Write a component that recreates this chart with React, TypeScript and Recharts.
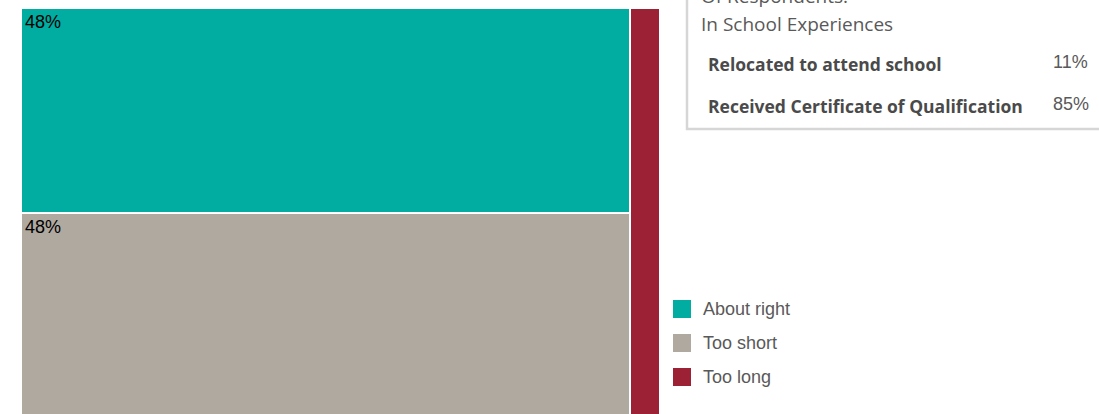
import { Treemap } from 'recharts';

const categories = ['About right', 'Too short', 'Too long'];
const shares = [48, 48, 4.7];
const shareLabels = ['48%', '48%', ''];
const colors = ['#00ADA0', '#B0A9A0', '#9D2135'];

const boxTitle = ['Of Respondents:', 'In School Experiences'];
const boxRows = ['Relocated to attend school', 'Received Certificate of Qualification'];
const boxValues = ['11%', '85%'];

const data = categories.map((name, i) => ({ name, value: shares[i], label: shareLabels[i], color: colors[i] }));

function Cell(props: any) {
  const { x, y, width, height, depth, label, color } = props;
  if (depth !== 1) return null;
  return (
    <g>
      <rect x={x} y={y} width={width} height={height} fill={color} stroke="#fff" strokeWidth={2} />
      {label && width > 50 ? (
        <text x={x + 4} y={y + 20} fontFamily="Liberation Sans, Arial" fontSize={18} fill="#000">
          {label}
        </text>
      ) : null}
    </g>
  );
}

export default function App() {
  return (
    <div style={{ position: 'fixed', left: 0, top: 0, width: 1099, height: 414, overflow: 'hidden', background: '#fff' }}>
      <div style={{ position: 'absolute', left: 21, top: 8 }}>
        <Treemap
          width={639}
          height={410}
          data={data}
          dataKey="value"
          isAnimationActive={false}
          content={<Cell />}
        />
      </div>
      <svg width={1099} height={414} style={{ position: 'absolute', left: 0, top: 0, pointerEvents: 'none' }}>
        <rect x={687} y={-40} width={450} height={169} fill="none" stroke="#D6D6D6" strokeWidth={2.5} />
        {boxTitle.map((t, i) => (
          <text key={t} x={701} y={3 + i * 28} fontFamily="Open Sans" fontSize={19} fill="#595959">
            {t}
          </text>
        ))}
        {boxRows.map((t, i) => (
          <g key={t}>
            <text x={708} y={71 + i * 42} fontFamily="Open Sans" fontWeight="bold" fontSize={17.5} fill="#4A4A4A">
              {t}
            </text>
            <text x={1053} y={68 + i * 42} fontFamily="Liberation Sans, Arial" fontSize={18} fill="#595959">
              {boxValues[i]}
            </text>
          </g>
        ))}
        {categories.map((c, i) => (
          <g key={c}>
            <rect x={673} y={300 + i * 34} width={18} height={18} fill={colors[i]} />
            <text x={703} y={315 + i * 34} fontFamily="Liberation Sans, Arial" fontSize={18} fill="#595959">
              {c}
            </text>
          </g>
        ))}
      </svg>
    </div>
  );
}
